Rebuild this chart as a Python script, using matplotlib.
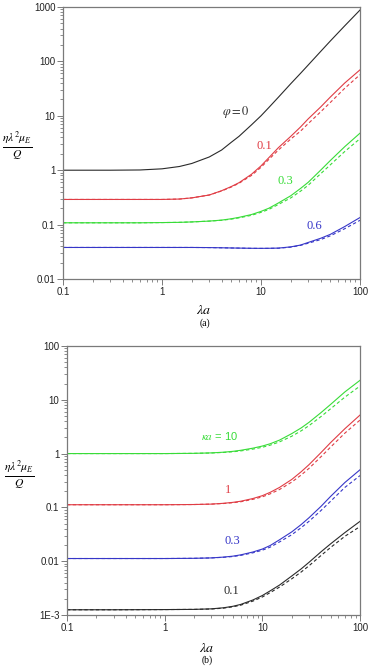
import numpy as np
import matplotlib
matplotlib.use('Agg')
import matplotlib.pyplot as plt
from matplotlib.ticker import NullFormatter, LogLocator

plt.rcParams['mathtext.fontset'] = 'stix'
plt.rcParams['font.family'] = ['Liberation Sans', 'DejaVu Sans']
plt.rcParams['font.serif'] = ['Liberation Serif', 'DejaVu Serif']

# ---- panel (a): curves for different volume fractions phi ----
la_a = [0.1, 0.3, 0.6, 1, 1.5, 2, 3, 4, 5, 6, 8, 10, 12, 15, 20, 25, 30, 40, 50, 70, 100]
phi0 = [1.0, 1.0, 1.01, 1.06, 1.17, 1.33, 1.75, 2.35, 3.25, 4.2, 6.8, 10, 14.2, 22,
        39, 60, 86, 152, 236, 450, 880]
phi01 = [0.29, 0.29, 0.29, 0.29, 0.295, 0.31, 0.35, 0.42, 0.5, 0.59, 0.84, 1.2, 1.7,
         2.6, 4.2, 6.2, 8.8, 14.5, 22, 40, 70]
phi01_d = [0.29, 0.29, 0.29, 0.29, 0.295, 0.31, 0.35, 0.415, 0.49, 0.575, 0.8, 1.13,
           1.58, 2.35, 3.75, 5.2, 7.2, 11.8, 17.5, 32, 57]
phi03 = [0.108, 0.108, 0.108, 0.109, 0.11, 0.112, 0.116, 0.121, 0.128, 0.136, 0.153,
         0.175, 0.2, 0.25, 0.34, 0.46, 0.6, 1.0, 1.5, 2.7, 4.8]
phi03_d = [0.108, 0.108, 0.108, 0.109, 0.11, 0.112, 0.116, 0.12, 0.126, 0.133, 0.148,
           0.168, 0.19, 0.235, 0.31, 0.41, 0.53, 0.86, 1.25, 2.2, 3.8]
phi06 = [0.038, 0.038, 0.038, 0.038, 0.038, 0.038, 0.0378, 0.0375, 0.0372, 0.037, 0.0367,
         0.0366, 0.0367, 0.037, 0.039, 0.042, 0.047, 0.056, 0.066, 0.092, 0.135]
phi06_d = [0.038, 0.038, 0.038, 0.038, 0.038, 0.038, 0.0378, 0.0375, 0.0372, 0.037, 0.0366,
           0.0365, 0.0366, 0.0368, 0.0385, 0.0415, 0.0455, 0.053, 0.062, 0.084, 0.12]

# ---- panel (b): curves for different kappa*a ----
la_b = [0.1, 0.3, 1, 2, 3, 4, 5, 6, 8, 10, 12, 15, 20, 25, 30, 40, 50, 70, 100]
ka10 = [1.0, 1.0, 1.0, 1.01, 1.03, 1.06, 1.1, 1.15, 1.26, 1.38, 1.52, 1.78, 2.35, 3.0,
        3.8, 5.8, 8.2, 14, 23]
ka10_d = [1.0, 1.0, 1.0, 1.01, 1.025, 1.05, 1.08, 1.12, 1.21, 1.31, 1.43, 1.65, 2.1,
          2.65, 3.3, 4.9, 6.8, 11.2, 18]
ka1 = [0.112, 0.112, 0.112, 0.113, 0.115, 0.119, 0.124, 0.13, 0.146, 0.165, 0.19, 0.235,
       0.33, 0.46, 0.62, 1.05, 1.6, 2.9, 5.2]
ka1_d = [0.112, 0.112, 0.112, 0.113, 0.115, 0.118, 0.122, 0.127, 0.141, 0.157, 0.178,
         0.215, 0.295, 0.4, 0.53, 0.88, 1.32, 2.4, 4.2]
ka03 = [0.0112, 0.0112, 0.0112, 0.0113, 0.0115, 0.0119, 0.0124, 0.0131, 0.0148, 0.0168,
        0.0195, 0.025, 0.035, 0.048, 0.064, 0.105, 0.16, 0.29, 0.5]
ka03_d = [0.0112, 0.0112, 0.0112, 0.0113, 0.0115, 0.0118, 0.0122, 0.0128, 0.0143, 0.016,
          0.0182, 0.0228, 0.031, 0.042, 0.055, 0.088, 0.13, 0.235, 0.39]
ka01 = [0.00125, 0.00125, 0.00126, 0.00127, 0.0013, 0.00136, 0.00145, 0.00157, 0.0019,
        0.0023, 0.0028, 0.0036, 0.0053, 0.0072, 0.0095, 0.015, 0.021, 0.034, 0.055]
ka01_d = [0.00125, 0.00125, 0.00126, 0.00127, 0.00129, 0.00134, 0.00142, 0.00152, 0.00181,
          0.00216, 0.0026, 0.0033, 0.0047, 0.0063, 0.0082, 0.0128, 0.018, 0.029, 0.044]

xticks = [0.1, 1, 10, 100]
xticklabels = ['0.1', '1', '10', '100']
yticks_a = [0.01, 0.1, 1, 10, 100, 1000]
yticklabels_a = ['0.01', '0.1', '1', '10', '100', '1000']
yticks_b = [0.001, 0.01, 0.1, 1, 10, 100]
yticklabels_b = ['1E-3', '0.01', '0.1', '1', '10', '100']

BLACK = '#2a2a2a'
RED = '#e03c44'
GREEN = '#38dc38'
BLUE = '#3636c8'
FRAME = '#7a7a7a'
LW = 0.8
DASH = (0, (3, 2.2))

fig = plt.figure(figsize=(3.68, 6.67), dpi=100)
ax1 = fig.add_axes([0.1712, 0.5817, 0.8071, 0.4078])
ax2 = fig.add_axes([0.1821, 0.0780, 0.7962, 0.4033])


def style_axes(ax, yticks, yticklabels, ylim):
    ax.set_xscale('log')
    ax.set_yscale('log')
    ax.set_xlim(0.1, 100)
    ax.set_ylim(*ylim)
    ax.set_xticks(xticks)
    ax.set_xticklabels(xticklabels)
    ax.set_yticks(yticks)
    ax.set_yticklabels(yticklabels)
    ax.xaxis.set_minor_locator(LogLocator(base=10, subs=np.arange(2, 10)))
    ax.yaxis.set_minor_locator(LogLocator(base=10, subs=np.arange(2, 10)))
    ax.xaxis.set_minor_formatter(NullFormatter())
    ax.yaxis.set_minor_formatter(NullFormatter())
    ax.tick_params(which='major', direction='out', length=4, width=0.7,
                   colors=FRAME, labelcolor='#222222', labelsize=7, pad=1.5)
    ax.tick_params(which='minor', direction='out', length=2.2, width=0.6,
                   colors=FRAME)
    for s in ax.spines.values():
        s.set_color(FRAME)
        s.set_linewidth(0.9)


# panel (a)
ax1.plot(la_a, phi0, color=BLACK, lw=LW)
ax1.plot(la_a, phi01, color=RED, lw=LW)
ax1.plot(la_a, phi01_d, color=RED, lw=LW, linestyle=DASH)
ax1.plot(la_a, phi03, color=GREEN, lw=LW)
ax1.plot(la_a, phi03_d, color=GREEN, lw=LW, linestyle=DASH)
ax1.plot(la_a, phi06, color=BLUE, lw=LW)
ax1.plot(la_a, phi06_d, color=BLUE, lw=LW, linestyle=DASH)
style_axes(ax1, yticks_a, yticklabels_a, (0.01, 1000))

tkw = dict(ha='center', va='center', fontsize=9, family='serif')
ax1.text(0.582, 0.615, r'$\varphi = 0$', color=BLACK, transform=ax1.transAxes, **tkw)
ax1.text(0.677, 0.489, '0.1', color=RED, transform=ax1.transAxes, **tkw)
ax1.text(0.748, 0.360, '0.3', color=GREEN, transform=ax1.transAxes, **tkw)
ax1.text(0.845, 0.195, '0.6', color=BLUE, transform=ax1.transAxes, **tkw)

ylab = r'$\frac{\eta\lambda^2\mu_E}{Q}$'
fig.text(17 / 368, 1 - 146 / 667, ylab, ha='center', va='center', fontsize=12)
fig.text(204 / 368, 1 - 310 / 667, r'$\lambda a$', ha='center', va='center', fontsize=10)
fig.text(205 / 368, 1 - 323 / 667, '(a)', ha='center', va='center', fontsize=7,
         family='serif')

# panel (b)
ax2.plot(la_b, ka10, color=GREEN, lw=LW)
ax2.plot(la_b, ka10_d, color=GREEN, lw=LW, linestyle=DASH)
ax2.plot(la_b, ka1, color=RED, lw=LW)
ax2.plot(la_b, ka1_d, color=RED, lw=LW, linestyle=DASH)
ax2.plot(la_b, ka03, color=BLUE, lw=LW)
ax2.plot(la_b, ka03_d, color=BLUE, lw=LW, linestyle=DASH)
ax2.plot(la_b, ka01, color=BLACK, lw=LW)
ax2.plot(la_b, ka01_d, color=BLACK, lw=LW, linestyle=DASH)
style_axes(ax2, yticks_b, yticklabels_b, (0.001, 100))

ax2.text(0.519, 0.665, r'$\kappa a$' + ' = 10', color=GREEN, transform=ax2.transAxes,
         ha='center', va='center', fontsize=8)
ax2.text(0.550, 0.465, '1', color=RED, transform=ax2.transAxes, **tkw)
ax2.text(0.563, 0.275, '0.3', color=BLUE, transform=ax2.transAxes, **tkw)
ax2.text(0.560, 0.089, '0.1', color=BLACK, transform=ax2.transAxes, **tkw)

fig.text(19 / 368, 1 - 475 / 667, ylab, ha='center', va='center', fontsize=12)
fig.text(207 / 368, 1 - 648 / 667, r'$\lambda a$', ha='center', va='center', fontsize=10)
fig.text(207 / 368, 1 - 660 / 667, '(b)', ha='center', va='center', fontsize=7,
         family='serif')

fig.savefig('out.png', dpi=100)
